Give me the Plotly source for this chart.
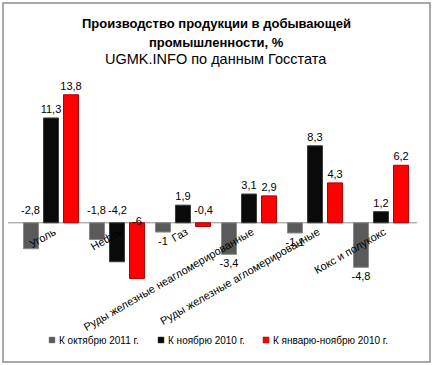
import plotly.graph_objects as go

categories = ["Уголь", "Нефть", "Газ", "Руды железные неагломерированные",
              "Руды железные агломерированные", "Кокс и полукокс"]
series_names = ["К октябрю 2011 г.", "К ноябрю 2010 г.", "К январю-ноябрю 2010 г."]
oct2011 = [-2.8, -1.8, -1.0, -3.4, -1.1, -4.8]
nov2010 = [11.3, -4.2, 1.9, 3.1, 8.3, 1.2]
jannov2010 = [13.8, -6.0, -0.4, 2.9, 4.3, 6.2]

colors = ["#5a5a5a", "#0a0a0a", "#ff0000"]
line_colors = ["#8a8a8a", "#3c3c3c", "#b00000"]

# labels that Excel drew just above the zero line rather than at the bar end
# key: (series index, category index) -> vertical shift in px
raised = {(0, 0): 13, (0, 1): 13, (1, 1): 13, (2, 1): 2, (2, 2): 13}

W, H = 433, 365
ml, mr, mt, mb = 18, 19, 79, 68
ymin, ymax = -8, 15.5
bargap, bargroupgap = 0.09, 0.25
plot_w = W - ml - mr
plot_h = H - mt - mb

def px_x(p):
    return (p - ml) / plot_w

def px_y(p):
    return (H - mb - p) / plot_h

def fmt(v):
    return ("%g" % v).replace(".", ",")

FONT = "Liberation Sans"
fig = go.Figure()
all_series = [oct2011, nov2010, jannov2010]
for si, (name, vals) in enumerate(zip(series_names, all_series)):
    texts, pos = [], []
    for ci, v in enumerate(vals):
        if (si, ci) in raised:
            texts.append("")
            pos.append("none")
        else:
            texts.append(fmt(v))
            pos.append("outside")
    fig.add_trace(go.Bar(
        x=categories, y=vals, name=name, showlegend=False,
        marker=dict(color=colors[si], line=dict(color=line_colors[si], width=1)),
        text=texts, textposition=pos, cliponaxis=False, constraintext="none",
        textfont=dict(size=11, color="black", family=FONT),
    ))

cat_w = plot_w / len(categories)
slot = cat_w * (1 - bargap) / 3
for (si, ci), ys in raised.items():
    v = all_series[si][ci]
    fig.add_annotation(x=categories[ci], y=0, xref="x", yref="y",
                       text=fmt(v), showarrow=False,
                       xshift=(si - 1) * slot, yshift=ys,
                       font=dict(size=11, color="black", family=FONT))

# zero line spanning slightly wider than the bar area
fig.add_shape(type="line", xref="paper", yref="y", x0=px_x(8), x1=px_x(417), y0=0, y1=0,
              line=dict(color="#8c8c8c", width=1), layer="below")

# titles
fig.add_annotation(x=0.5, xref="paper", y=px_y(23), yref="paper", yanchor="middle",
                   text="<b>Производство продукции в добывающей</b>", showarrow=False,
                   font=dict(size=13, family=FONT, color="black"))
fig.add_annotation(x=0.5, xref="paper", y=px_y(42), yref="paper", yanchor="middle",
                   text="<b>промышленности, %</b>", showarrow=False,
                   font=dict(size=13, family=FONT, color="black"))
fig.add_annotation(x=px_x(216), xref="paper", y=px_y(59), yref="paper", yanchor="middle",
                   text="UGMK.INFO по данным Госстата", showarrow=False,
                   font=dict(size=14.5, family=FONT, color="black"))

# legend (drawn manually to match the compact Excel layout)
legend_x = [49, 158, 263]
legend_y = 340
for i, name in enumerate(series_names):
    fig.add_shape(type="rect", xref="paper", yref="paper",
                  x0=px_x(legend_x[i]), x1=px_x(legend_x[i] + 6),
                  y0=px_y(legend_y + 3), y1=px_y(legend_y - 3),
                  fillcolor=colors[i], line=dict(color=line_colors[i], width=0.5))
    fig.add_annotation(x=px_x(legend_x[i] + 8), xref="paper", y=px_y(legend_y),
                       yref="paper", xanchor="left", yanchor="middle",
                       text=name, showarrow=False,
                       font=dict(size=10, family=FONT, color="black"))

# outer chart border
fig.add_shape(type="rect", xref="paper", yref="paper",
              x0=px_x(3), x1=px_x(430), y0=px_y(362), y1=px_y(3),
              line=dict(color="#8c8c8c", width=1.5))

fig.update_layout(
    width=W, height=H,
    margin=dict(l=ml, r=mr, t=mt, b=mb, autoexpand=False),
    paper_bgcolor="white", plot_bgcolor="white",
    barmode="group", bargap=bargap, bargroupgap=bargroupgap,
    font=dict(family=FONT, size=11, color="black"),
    showlegend=False,
    xaxis=dict(anchor="free", position=(0 - ymin) / (ymax - ymin), automargin=False,
               tickangle=-30, showline=False, ticks="", showgrid=False,
               ticklabelshift=3,
               tickfont=dict(size=11, family=FONT)),
    yaxis=dict(range=[ymin, ymax], showticklabels=False, showgrid=False, automargin=False,
               zeroline=False, showline=False, ticks=""),
)

fig.write_html("out.html", post_script="document.body.style.margin='0';",
               config={"displayModeBar": False})
